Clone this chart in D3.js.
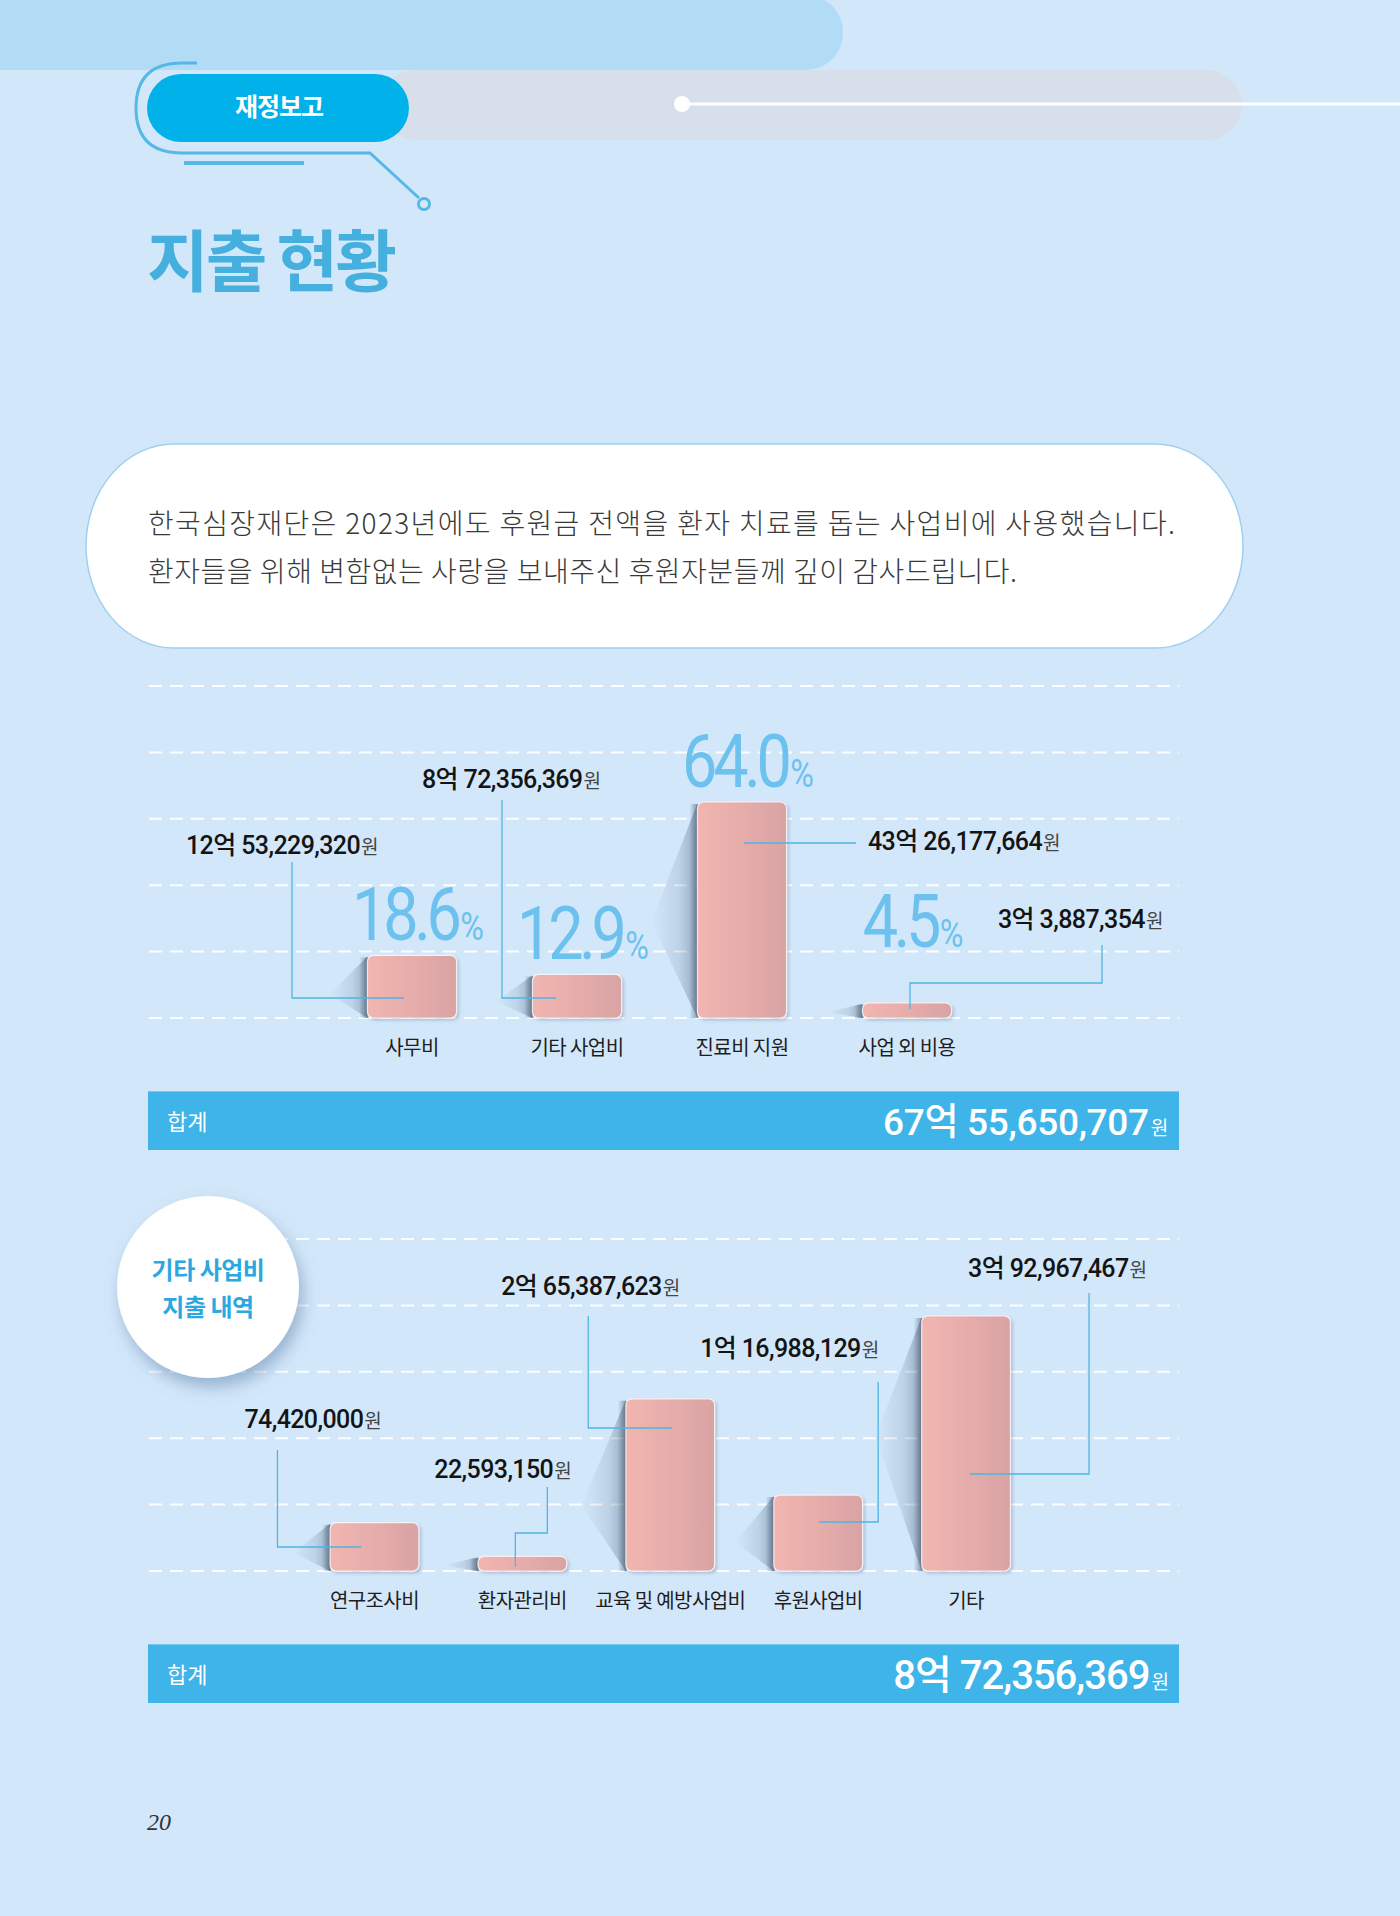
<!DOCTYPE html>
<html><head><meta charset="utf-8">
<script src="https://cdn.jsdelivr.net/npm/d3@7"></script>
<style>html,body{margin:0;padding:0;background:#d3e7fa;}svg{display:block}</style>
</head><body><svg id="c" width="1400" height="1916"></svg>
<script>
// ---------- DATA ----------
const categories1 = ["사무비", "기타 사업비", "진료비 지원", "사업 외 비용"];
const amounts1 = [1253229320, 872356369, 4326177664, 303887354];
const categories2 = ["연구조사비", "환자관리비", "교육 및 예방사업비", "후원사업비", "기타"];
const amounts2 = [74420000, 22593150, 265387623, 116988129, 392967467];
const introLines = [
  "한국심장재단은 2023년에도 후원금 전액을 환자 치료를 돕는 사업비에 사용했습니다.",
  "환자들을 위해 변함없는 사랑을 보내주신 후원자분들께 깊이 감사드립니다."
];
const sectionTag = "재정보고";
const pageTitle = "지출 현황";
const subTitleLines = ["기타 사업비", "지출 내역"];
const totalLabel = "합계";
const pageNumber = "20";

// ---------- LAYOUT (not data) ----------
const FONT_KR = "'Noto Sans CJK KR', sans-serif";
const FONT_NUM = "Roboto, 'Noto Sans CJK KR', sans-serif";
const callouts1 = {
  "사무비":      {lx: -226, ly: -164, path: [[-120, -156], [-120, -20], [-8, -20]]},
  "기타 사업비": {lx: -155, ly: -230, path: [[-75, -218], [-75, -20], [-21, -20]]},
  "진료비 지원": {lx: 126, ly: -168, path: [[2, -175], [114, -175]]},
  "사업 외 비용": {lx: 91, ly: -90, path: [[195, -73], [195, -35], [3, -35], [3, -9]]}
};
const pctLift1 = {"사업 외 비용": 41};
const callouts2 = {
  "연구조사비":        {lx: -130, ly: -143, path: [[-97, -121], [-97, -24], [-13, -24]]},
  "환자관리비":        {lx: -88, ly: -93, path: [[25, -84], [25, -38], [-7, -38], [-7, -4]]},
  "교육 및 예방사업비": {lx: -169, ly: -276, path: [[-82, -255], [-82, -143], [2, -143]]},
  "후원사업비":        {lx: -118, ly: -214, path: [[60, -189], [60, -49], [1, -49]]},
  "기타":             {lx: 2, ly: -294, path: [[123, -278], [123, -97], [4, -97]]}
};

const comma = d3.format(",");
const pctFmt = d3.format(".1f");
function wonLabel(v) {
  const eok = Math.floor(v / 1e8), rest = v % 1e8;
  return eok > 0 ? `${eok}억 ${comma(rest)}` : comma(rest);
}

const svg = d3.select("#c");
const defs = svg.append("defs");

function hGrad(id, stops) {
  const g = defs.append("linearGradient").attr("id", id).attr("x1", 0).attr("x2", 1).attr("y1", 0).attr("y2", 0);
  stops.forEach(s => g.append("stop").attr("offset", s[0]).attr("stop-color", s[1]).attr("stop-opacity", s[2] ?? 1));
}
hGrad("barGrad", [[0, "#f2b6b1"], [1, "#d9a3a4"]]);
hGrad("wedgeGrad", [[0, "#5a7590", 0], [0.6, "#5a7590", 0.18], [1, "#41576e", 0.45]]);
hGrad("stripGrad", [[0, "#34485e", 0], [1, "#34485e", 0.55]]);
const f1 = defs.append("filter").attr("id", "barShadow").attr("x", "-20%").attr("y", "-20%").attr("width", "150%").attr("height", "150%");
f1.append("feDropShadow").attr("dx", 2).attr("dy", 2).attr("stdDeviation", 1.5).attr("flood-color", "#3a4a5c").attr("flood-opacity", 0.25);
const f2 = defs.append("filter").attr("id", "circShadow").attr("x", "-30%").attr("y", "-30%").attr("width", "170%").attr("height", "170%");
f2.append("feDropShadow").attr("dx", 4).attr("dy", 9).attr("stdDeviation", 8).attr("flood-color", "#5a7ea6").attr("flood-opacity", 0.5);

svg.append("rect").attr("width", 1400).attr("height", 1916).attr("fill", "#d3e7fa");

// ---------- HEADER ----------
svg.append("rect").attr("x", -60).attr("y", -5).attr("width", 903).attr("height", 75).attr("rx", 37).attr("fill", "#b2dbf6");
svg.append("rect").attr("x", 380).attr("y", 70).attr("width", 862).attr("height", 70).attr("rx", 35).attr("fill", "#d7e0ea");
svg.append("path").attr("d", "M197,63 L182,63 Q136,63 136,108 Q136,153 182,153 L370,153 L419,198")
  .attr("fill", "none").attr("stroke", "#55b8e6").attr("stroke-width", 3);
svg.append("circle").attr("cx", 424).attr("cy", 204).attr("r", 5.5).attr("fill", "#d3e7fa").attr("stroke", "#55b8e6").attr("stroke-width", 3);
svg.append("line").attr("x1", 184).attr("x2", 304).attr("y1", 163).attr("y2", 163).attr("stroke", "#55b8e6").attr("stroke-width", 4);
svg.append("rect").attr("x", 147).attr("y", 74).attr("width", 262).attr("height", 68).attr("rx", 34).attr("fill", "#01b1ea");
svg.append("text").attr("x", 279).attr("y", 116).attr("text-anchor", "middle").attr("font-family", FONT_KR)
  .attr("font-weight", 700).attr("font-size", 25).attr("letter-spacing", -1).attr("fill", "#fff").text(sectionTag);
svg.append("line").attr("x1", 682).attr("x2", 1400).attr("y1", 104).attr("y2", 104).attr("stroke", "#fff").attr("stroke-width", 3);
svg.append("circle").attr("cx", 682).attr("cy", 104).attr("r", 8).attr("fill", "#fff");
svg.append("text").attr("x", 147).attr("y", 286).attr("font-family", FONT_KR).attr("font-weight", 700)
  .attr("font-size", 67).attr("letter-spacing", -3).attr("fill", "#45afdd").text(pageTitle);

// ---------- INTRO BOX ----------
svg.append("rect").attr("x", 86).attr("y", 444).attr("width", 1157).attr("height", 204).attr("rx", 88).attr("ry", 102)
  .attr("fill", "#fff").attr("stroke", "#9dd0ef").attr("stroke-width", 1.5);
const introLen = [1027, 869];
introLines.forEach((t, i) => {
  svg.append("text").attr("x", 148).attr("y", 534 + i * 48).attr("font-family", FONT_KR).attr("font-weight", 300)
    .attr("font-size", 28).attr("fill", "#3a3a3a").attr("textLength", introLen[i]).attr("lengthAdjust", "spacing").text(t);
});

// ---------- CHART HELPERS ----------
function gridlines(baseline, x0, x1) {
  const gs = d3.scaleLinear().domain([0, 5]).range([baseline, baseline - 332]);
  svg.append("g").selectAll("line").data(d3.range(6)).join("line")
    .attr("x1", x0).attr("x2", x1).attr("y1", d => gs(d)).attr("y2", d => gs(d))
    .attr("stroke", "#fff").attr("stroke-width", 2).attr("stroke-dasharray", "13,8").attr("stroke-opacity", 0.9);
}

function drawBars(cats, vals, x, y, baseline) {
  const g = svg.append("g");
  cats.forEach((c, i) => {
    const x0 = x(c), w = x.bandwidth(), t = y(vals[i]), h = baseline - t;
    const sp = Math.min(46, 34 + h * 0.06);
    const midY = Math.min(t + Math.max(h * 0.62, 4), t + 120);
    g.append("polygon")
      .attr("points", [[x0, t + 1], [x0 - sp, midY], [x0, Math.min(baseline, t + h * 1.3 + 4)]].map(p => p.join(",")).join(" "))
      .attr("fill", "url(#wedgeGrad)");
    g.append("rect").attr("x", x0 - 8).attr("y", t + 2).attr("width", 9).attr("height", Math.max(h - 2, 1))
      .attr("fill", "url(#stripGrad)");
    g.append("rect").attr("x", x0).attr("y", t).attr("width", w).attr("height", h).attr("rx", Math.min(6, h / 2))
      .attr("fill", "url(#barGrad)").attr("stroke", "rgba(255,255,255,0.75)").attr("stroke-width", 1.2)
      .attr("filter", "url(#barShadow)");
  });
}

function drawCallouts(cats, vals, x, y, baseline, spec) {
  const line = d3.line();
  const g = svg.append("g");
  cats.forEach((c, i) => {
    const cx = x(c) + x.bandwidth() / 2, s = spec[c];
    g.append("path").attr("d", line(s.path.map(p => [cx + p[0], baseline + p[1]])))
      .attr("fill", "none").attr("stroke", "#4fb5e2").attr("stroke-width", 1.3);
    const tx = g.append("text").attr("x", cx + s.lx).attr("y", baseline + s.ly).attr("font-family", FONT_NUM);
    tx.append("tspan").attr("font-size", 25).attr("font-weight", 500).attr("letter-spacing", -0.6).attr("fill", "#141414").text(wonLabel(vals[i]));
    tx.append("tspan").attr("font-family", FONT_KR).attr("font-size", 19).attr("font-weight", 400).attr("dx", 1).attr("fill", "#444").text("원");
  });
}

function drawCatLabels(cats, x, yPos) {
  svg.append("g").selectAll("text").data(cats).join("text")
    .attr("x", d => x(d) + x.bandwidth() / 2).attr("y", yPos).attr("text-anchor", "middle")
    .attr("font-family", FONT_KR).attr("font-weight", 400).attr("font-size", 20).attr("letter-spacing", -0.6)
    .attr("fill", "#1e1e1e").text(d => d);
}

function drawTotal(yTop, value, fs) {
  svg.append("rect").attr("x", 148).attr("y", yTop).attr("width", 1031).attr("height", 59).attr("fill", "#3fb4e9");
  svg.append("line").attr("x1", 148).attr("x2", 1179).attr("y1", yTop + 0.5).attr("y2", yTop + 0.5).attr("stroke", "#74cbf2").attr("stroke-width", 1);
  svg.append("text").attr("x", 167).attr("y", yTop + 39).attr("font-family", FONT_KR).attr("font-weight", 400)
    .attr("font-size", 22).attr("fill", "#fff").text(totalLabel);
  const t = svg.append("text").attr("x", 1168).attr("y", yTop + 44 + (fs - 38) * 0.3).attr("text-anchor", "end")
    .attr("font-family", FONT_NUM).attr("fill", "#fff").attr("letter-spacing", fs > 38 ? -1 : -0.3);
  t.append("tspan").attr("font-size", fs).attr("font-weight", 500).text(wonLabel(value));
  t.append("tspan").attr("font-family", FONT_KR).attr("font-size", 19).attr("font-weight", 400).attr("dx", 2).text("원");
}

// ---------- CHART 1 ----------
const base1 = 1018;
gridlines(base1, 149, 1179);
const x1 = d3.scaleBand().domain(categories1).range([329.5, 989.5]).paddingInner(0.46).paddingOuter(0.23);
const y1 = d3.scaleLinear().domain([0, d3.max(amounts1)]).range([base1, base1 - 216]);
drawBars(categories1, amounts1, x1, y1, base1);
drawCallouts(categories1, amounts1, x1, y1, base1, callouts1);
const total1 = d3.sum(amounts1);
categories1.forEach((c, i) => {
  const cx = x1(c) + x1.bandwidth() / 2;
  const yy = y1(amounts1[i]) - 15 - (pctLift1[c] || 0);
  const g = svg.append("g").attr("transform", `translate(${cx + 6},${yy}) scale(0.85,1)`);
  const t = g.append("text").attr("text-anchor", "middle").attr("font-family", FONT_NUM).attr("fill", "#6cc1ee");
  t.append("tspan").attr("font-size", 74).attr("font-weight", 400).attr("letter-spacing", -5).text(pctFmt(amounts1[i] / total1 * 100));
  t.append("tspan").attr("font-size", 38).attr("font-weight", 400).attr("dx", 3).text("%");
});
drawCatLabels(categories1, x1, 1055);
drawTotal(1091, total1, 37);

// ---------- CHART 2 ----------
const base2 = 1571;
gridlines(base2, 149, 1179);
const circ = svg.append("g");
circ.append("circle").attr("cx", 208).attr("cy", 1287).attr("r", 91).attr("fill", "#fff").attr("filter", "url(#circShadow)");
subTitleLines.forEach((t, i) => {
  circ.append("text").attr("x", 208).attr("y", 1279 + i * 37).attr("text-anchor", "middle").attr("font-family", FONT_KR)
    .attr("font-weight", 700).attr("font-size", 24).attr("letter-spacing", -0.5).attr("fill", "#2ba8e0").text(t);
});
const x2 = d3.scaleBand().domain(categories2).range([300.5, 1040]).paddingInner(0.4).paddingOuter(0.2);
const y2 = d3.scaleLinear().domain([0, d3.max(amounts2)]).range([base2, base2 - 255]);
drawBars(categories2, amounts2, x2, y2, base2);
drawCallouts(categories2, amounts2, x2, y2, base2, callouts2);
drawCatLabels(categories2, x2, 1608);
drawTotal(1644, d3.sum(amounts2), 40);

svg.append("text").attr("x", 147).attr("y", 1830).attr("font-family", "'Liberation Serif', serif").attr("font-style", "italic")
  .attr("font-size", 24).attr("fill", "#333").text(pageNumber);
</script>
</body></html>
